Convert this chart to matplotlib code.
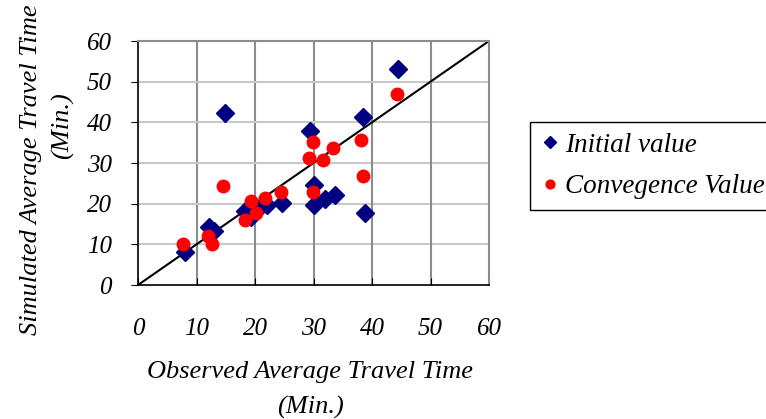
import matplotlib.pyplot as plt
import numpy as np

# observed vs simulated travel time (min.)
init_obs = np.array([8.0, 12.1, 13.0, 14.9, 18.3, 19.4, 20.9, 22.0, 24.7, 29.4, 30.1, 30.1, 32.0, 33.7, 38.4, 38.8, 44.5])
init_sim = np.array([8.2, 14.3, 13.3, 42.2, 18.2, 16.8, 19.2, 19.6, 20.1, 37.9, 24.6, 19.7, 21.1, 22.1, 41.2, 17.8, 53.0])
conv_obs = np.array([7.7, 11.9, 12.6, 14.6, 18.3, 19.3, 20.1, 21.7, 24.4, 29.9, 29.2, 31.7, 29.9, 33.4, 38.2, 38.5, 44.3])
conv_sim = np.array([10.2, 12.1, 10.0, 24.4, 16.0, 20.7, 17.6, 21.3, 22.8, 35.1, 31.3, 30.7, 22.8, 33.8, 35.6, 26.8, 46.9])
ticks = [0, 10, 20, 30, 40, 50, 60]

plt.rcParams['font.family'] = ['Liberation Serif', 'DejaVu Serif']
plt.rcParams['font.style'] = 'italic'

fig = plt.figure(figsize=(7.66, 4.19), dpi=100)
ax = fig.add_axes([138 / 766, 1 - 285 / 419, 351 / 766, 244 / 419])

ax.set_xlim(0, 60)
ax.set_ylim(0, 60)
ax.set_xticks(ticks)
ax.set_yticks(ticks)
for v in ticks[1:-1]:
    ax.axvline(v, color='#8c8c8c', lw=1.5, zorder=0)
    ax.axhline(v, color='#c8c8c8', lw=1.5, zorder=0)

ax.plot([0, 60], [0, 60], color='black', lw=1.5, zorder=2)
ax.plot(init_obs, init_sim, 'D', color='#000080', ms=9, label='Initial value', zorder=3)
ax.plot(conv_obs, conv_sim, 'o', color='#ff0000', ms=9, label='Convegence Value', zorder=4)

for s in ['top', 'right']:
    ax.spines[s].set_color('#8c8c8c')
    ax.spines[s].set_linewidth(1.5)
for s in ['left', 'bottom']:
    ax.spines[s].set_color('black')
    ax.spines[s].set_linewidth(1.2)

ax.tick_params(axis='y', direction='out', length=5, pad=14, labelsize=18)
ax.tick_params(axis='x', direction='in', length=5, pad=24, labelsize=18)
for lab in ax.get_xticklabels() + ax.get_yticklabels():
    lab.set_fontstyle('italic')

fig.text(310 / 766, 1 - 372 / 419, 'Observed Average Travel Time', ha='center', va='center', fontsize=19, style='italic')
fig.text(310 / 766, 1 - 407 / 419, '(Min.)', ha='center', va='center', fontsize=19, style='italic')
fig.text(31 / 766, 1 - 170 / 419, 'Simulated Average Travel Time', ha='center', va='center', rotation=90, fontsize=19, style='italic')
fig.text(63 / 766, 1 - 126 / 419, '(Min.)', ha='center', va='center', rotation=90, fontsize=19, style='italic')

leg = ax.legend(loc='upper left', bbox_to_anchor=(530 / 766, 1 - 122 / 419), bbox_transform=fig.transFigure,
                fontsize=19.5, markerscale=0.7, handlelength=0.65, handletextpad=0.25, borderpad=0.4,
                labelspacing=0.6, borderaxespad=0, fancybox=False, framealpha=1, edgecolor='black')
leg.get_frame().set_linewidth(1.0)

fig.savefig('out.png', dpi=100)
